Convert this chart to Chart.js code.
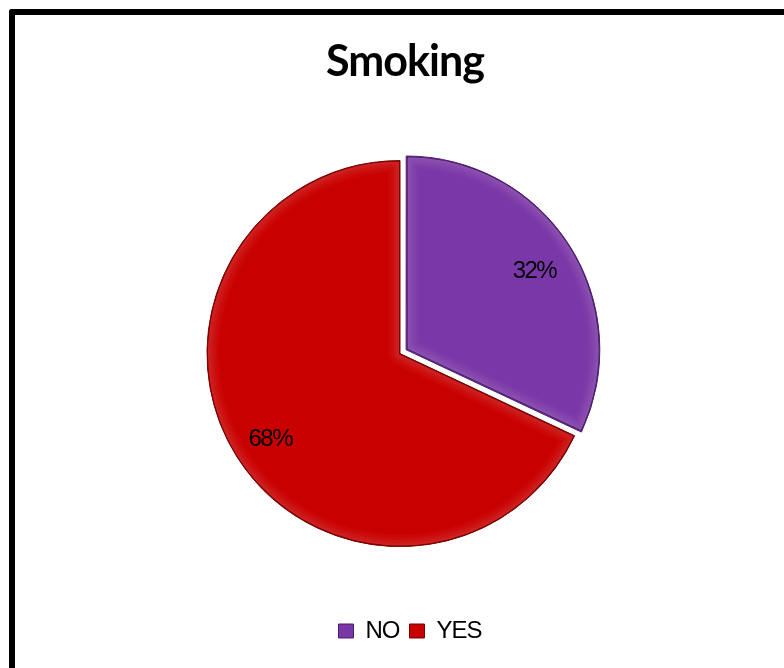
<!DOCTYPE html>
<html>
<head>
<meta charset="utf-8">
<title>Smoking</title>
<script src="https://cdn.jsdelivr.net/npm/chart.js@4.4.1/dist/chart.umd.min.js"></script>
<style>
  html, body { margin: 0; padding: 0; background: #fff; }
  body { width: 784px; height: 668px; overflow: hidden; position: relative; }
  .frame {
    position: absolute; left: 9px; top: 9px; width: 900px; height: 800px;
    border-left: 6px solid #000; border-top: 6px solid #000;
    border-top-left-radius: 3px;
  }
  #wrap { position: absolute; left: 0; top: 0; width: 784px; height: 668px; }
</style>
</head>
<body>
<div class="frame"></div>
<div id="wrap"><canvas id="smokingChart"></canvas></div>
<script>
var labels = ["NO", "YES"];
var shares = [32, 68];
var sliceColors = ["#7A37A7", "#C90000"];
var edgeColors = ["#4A1D6B", "#7A0000"];
var sliceOffsets = [29, 0];

// where Chart.js actually moves an exploded arc (offset / 4, plus a fix for narrow slices)
function arcShift(p, offset) {
  var off = (offset || 0) / 4;
  var fix = 1 - Math.sin(Math.min(Math.PI, p.circumference));
  var d = off * (1 + fix);
  var mid = (p.startAngle + p.endAngle) / 2;
  return { dx: Math.cos(mid) * d, dy: Math.sin(mid) * d, d: d, mid: mid };
}

function slicePath(ctx, p) {
  ctx.beginPath();
  ctx.moveTo(p.x, p.y);
  ctx.arc(p.x, p.y, p.outerRadius, p.startAngle, p.endAngle);
  ctx.closePath();
}

// tighter text everywhere; canvas resets this on resize so set it again before drawing
var tightText = {
  id: "tightText",
  beforeLayout: function (chart) { chart.ctx.letterSpacing = "-1px"; },
  beforeDraw: function (chart) { chart.ctx.letterSpacing = "-1px"; },
  afterLayout: function (chart) {
    // title and legend sit a little right of the pie centre
    chart.titleBlock.left += 5;
    chart.titleBlock.right += 5;
    chart.legend.left += 10;
    chart.legend.right += 10;
  }
};

// light rim + dark edge, gives the slices a bevelled look
var bevelPlugin = {
  id: "bevel",
  afterDatasetDraw: function (chart, args) {
    var ctx = chart.ctx;
    args.meta.data.forEach(function (arc, i) {
      var p = arc.getProps(["x", "y", "startAngle", "endAngle", "outerRadius", "circumference"], true);
      var s = arcShift(p, arc.options.offset);
      ctx.save();
      ctx.translate(s.dx, s.dy);
      slicePath(ctx, p);
      ctx.clip();
      ctx.lineJoin = "round";
      [[24, 0.025], [18, 0.03], [13, 0.035], [8, 0.035], [4, 0.03]].forEach(function (b) {
        ctx.lineWidth = b[0];
        ctx.strokeStyle = "rgba(255,255,255," + b[1] + ")";
        slicePath(ctx, p);
        ctx.stroke();
      });
      ctx.lineWidth = 2;
      ctx.strokeStyle = edgeColors[i];
      slicePath(ctx, p);
      ctx.stroke();
      ctx.restore();
    });
  }
};

var percentLabels = {
  id: "percentLabels",
  afterDatasetsDraw: function (chart) {
    var ctx = chart.ctx;
    var meta = chart.getDatasetMeta(0);
    var total = shares.reduce(function (a, b) { return a + b; }, 0);
    ctx.save();
    ctx.font = "24px 'Liberation Sans', Arial, sans-serif";
    ctx.letterSpacing = "-1.5px";
    ctx.fillStyle = "#000";
    ctx.textAlign = "center";
    ctx.textBaseline = "middle";
    meta.data.forEach(function (arc, i) {
      var p = arc.getProps(["x", "y", "startAngle", "endAngle", "outerRadius", "circumference"], true);
      var s = arcShift(p, arc.options.offset);
      var r = s.d + p.outerRadius * 0.79;
      var txt = Math.round(shares[i] / total * 100) + "%";
      ctx.fillText(txt, p.x + Math.cos(s.mid) * r - 1, p.y + Math.sin(s.mid) * r + 4);
    });
    ctx.restore();
  }
};

new Chart(document.getElementById("smokingChart"), {
  type: "pie",
  data: {
    labels: labels,
    datasets: [{
      data: shares,
      backgroundColor: sliceColors,
      borderColor: edgeColors,
      borderWidth: 1,
      offset: sliceOffsets
    }]
  },
  options: {
    responsive: true,
    maintainAspectRatio: false,
    animation: false,
    layout: { padding: { left: 192, right: 176, top: 0, bottom: 15 } },
    plugins: {
      title: {
        display: true,
        text: "Smoking",
        color: "#000",
        font: { family: "Lato", weight: "bold", size: 43 },
        padding: { top: 36, bottom: 10.6 }
      },
      legend: {
        position: "bottom",
        labels: {
          color: "#000",
          font: { family: "'Liberation Sans', Arial", size: 24 },
          boxWidth: 15,
          boxHeight: 14,
          padding: 10
        }
      },
      tooltip: { enabled: false }
    }
  },
  plugins: [tightText, bevelPlugin, percentLabels]
});
</script>
</body>
</html>
